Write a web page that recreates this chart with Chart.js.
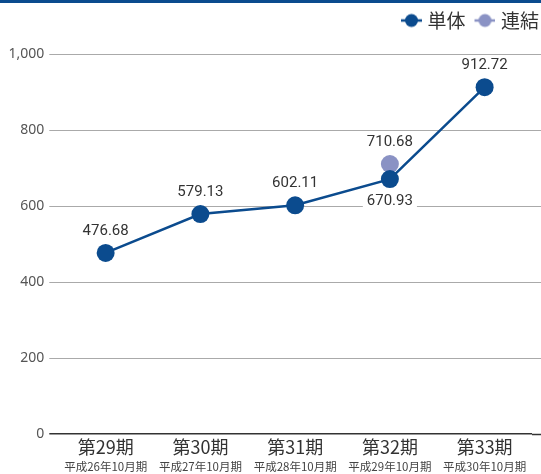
<html>
<head>
<script src="https://cdn.jsdelivr.net/npm/chart.js"></script>
<style>
  body { margin: 0; background: #fff; }
</style>
</head>
<body>
  <canvas id="myChart" width="541" height="474"></canvas>
<script>
  // 期と決算期
  var periods = ["第29期", "第30期", "第31期", "第32期", "第33期"];
  var fiscalYears = ["平成26年10月期", "平成27年10月期", "平成28年10月期", "平成29年10月期", "平成30年10月期"];
  // 単体 / 連結
  var tantai = [476.68, 579.13, 602.11, 670.93, 912.72];
  var renketsu = [null, null, null, 710.68, null];
  // 縦軸
  var yMin = 0, yMax = 1000, yStep = 200;

  var BLUE = "#0b4b8e";
  var LILAC = "#8a92c4";
  var CJK = "'Noto Sans CJK JP', sans-serif";

  // legend icon: short line with a dot on it (left part of the canvas stays empty as spacing)
  function legendIcon(color) {
    var c = document.createElement("canvas");
    c.width = 32; c.height = 16;
    var g = c.getContext("2d");
    g.strokeStyle = color; g.lineWidth = 2.5;
    g.beginPath(); g.moveTo(11, 8); g.lineTo(32, 8); g.stroke();
    g.fillStyle = color;
    g.beginPath(); g.arc(21.5, 8, 6.5, 0, Math.PI * 2); g.fill();
    return c;
  }
  var icons = [legendIcon(BLUE), legendIcon(LILAC)];

  var topBar = {
    id: "topBar",
    beforeDraw: function (chart) {
      var ctx = chart.ctx;
      ctx.save();
      ctx.fillStyle = BLUE;
      ctx.fillRect(0, 0, chart.width, 3);
      ctx.restore();
    }
  };

  // run the horizontal grid on to the right edge of the canvas
  var gridToEdge = {
    id: "gridToEdge",
    beforeDatasetsDraw: function (chart) {
      var ctx = chart.ctx, y = chart.scales.y, area = chart.chartArea;
      ctx.save();
      y.ticks.forEach(function (t) {
        var py = Math.round(y.getPixelForValue(t.value)) + 0.5;
        ctx.strokeStyle = t.value === 0 ? "#333" : "#aaa";
        ctx.lineWidth = t.value === 0 ? 1.5 : 1;
        ctx.beginPath();
        ctx.moveTo(area.right, py);
        ctx.lineTo(chart.width, py);
        ctx.stroke();
      });
      ctx.restore();
    }
  };

  var valueLabels = {
    id: "valueLabels",
    afterDatasetsDraw: function (chart) {
      var ctx = chart.ctx;
      ctx.save();
      ctx.font = "15px Roboto";
      ctx.textAlign = "center";
      ctx.textBaseline = "middle";
      chart.data.datasets.forEach(function (ds, i) {
        var meta = chart.getDatasetMeta(i);
        meta.data.forEach(function (pt, j) {
          var v = ds.data[j];
          if (v == null) return;
          var below = ds.labelBelow && ds.labelBelow[j];
          var txt = v.toFixed(2);
          var ty = below ? pt.y + 22 : pt.y - 22;
          if (below) {
            var w = ctx.measureText(txt).width;
            ctx.fillStyle = "#fff";
            ctx.fillRect(pt.x - w / 2 - 4, ty - 9, w + 8, 18);
          }
          ctx.fillStyle = "#333";
          ctx.fillText(txt, pt.x, ty);
        });
      });
      ctx.restore();
    }
  };

  var dataObj = {
    type: "line",
    data: {
      labels: periods,
      datasets: [
        {
          label: "単体",
          data: tantai,
          borderColor: BLUE,
          backgroundColor: BLUE,
          borderWidth: 2.5,
          pointRadius: 9,
          pointBorderWidth: 0,
          pointBackgroundColor: BLUE,
          tension: 0,
          labelBelow: [false, false, false, true, false]
        },
        {
          label: "連結",
          data: renketsu,
          borderColor: LILAC,
          backgroundColor: LILAC,
          borderWidth: 2.5,
          pointRadius: 9,
          pointBorderWidth: 0,
          pointBackgroundColor: LILAC,
          showLine: false
        }
      ]
    },
    options: {
      responsive: false,
      animation: false,
      layout: { padding: { left: 3.5, right: 0, top: 9, bottom: 0 } },
      plugins: {
        tooltip: { enabled: false },
        legend: {
          position: "top",
          align: "end",
          labels: {
            usePointStyle: true,
            pointStyleWidth: 24,
            padding: 2,
            color: "#333",
            font: { size: 19, family: CJK },
            generateLabels: function (chart) {
              var items = Chart.defaults.plugins.legend.labels.generateLabels(chart);
              items.forEach(function (it, k) { it.pointStyle = icons[k]; });
              return items;
            }
          }
        },
        title: {
          display: true,
          text: "",
          weight: 500,
          padding: { top: 0, bottom: 13 },
          font: { size: 1, lineHeight: 1 }
        }
      },
      scales: {
        y: {
          min: yMin,
          max: yMax,
          border: { display: false },
          grid: {
            color: function (c) { return c.tick && c.tick.value === 0 ? "#333" : "#aaa"; },
            lineWidth: function (c) { return c.tick && c.tick.value === 0 ? 1.5 : 1; },
            drawTicks: true,
            tickLength: 9
          },
          ticks: {
            stepSize: yStep,
            padding: 5,
            color: "#555",
            font: { size: 14, family: "'Noto Sans', sans-serif" },
            callback: function (v) { return v.toLocaleString("en-US"); }
          }
        },
        yR: {
          position: "right",
          display: true,
          grid: { display: false, drawTicks: false },
          border: { display: false },
          ticks: { display: false },
          afterFit: function (s) { s.width = 8.5; }
        },
        x: {
          type: "category",
          offset: true,
          grid: { display: false, drawTicks: false },
          border: { display: false },
          ticks: {
            padding: 4,
            autoSkip: false,
            maxRotation: 0,
            color: "#333",
            font: { size: 18, family: CJK, lineHeight: 1 }
          }
        },
        x2: {
          type: "category",
          position: "bottom",
          labels: fiscalYears,
          offset: true,
          grid: { display: false, drawTicks: false },
          border: { display: false },
          ticks: {
            padding: 0,
            autoSkip: false,
            maxRotation: 0,
            color: "#444",
            font: { size: 11.5, family: CJK }
          }
        }
      }
    },
    plugins: [topBar, gridToEdge, valueLabels]
  };
  const ctx = document.getElementById("myChart").getContext("2d");
  window.myLine = new Chart(ctx, dataObj);
</script>
</body>
</html>
